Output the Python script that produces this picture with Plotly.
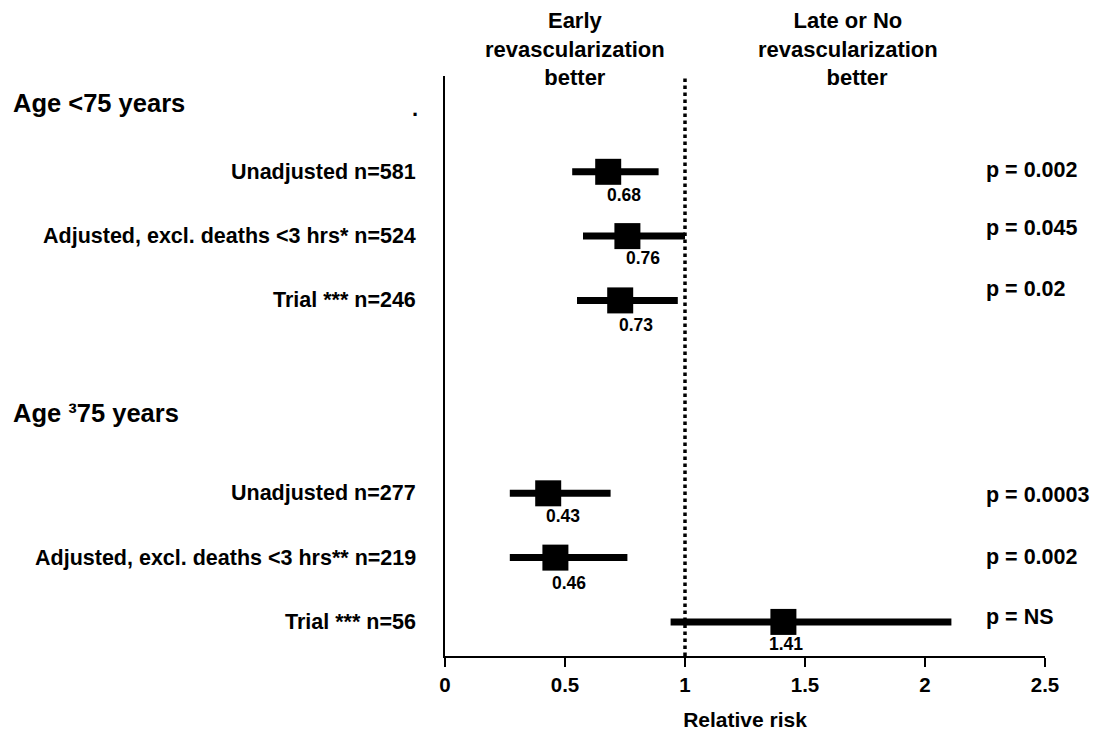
import plotly.graph_objects as go

# ---- data ----
row_labels = ["Unadjusted n=581", "Adjusted, excl. deaths <3 hrs* n=524", "Trial *** n=246",
              "Unadjusted n=277", "Adjusted, excl. deaths <3 hrs** n=219", "Trial *** n=56"]
row_pos = [0, 1, 2, 5, 6, 7]
rr = [0.68, 0.76, 0.73, 0.43, 0.46, 1.41]
ci_low = [0.53, 0.575, 0.55, 0.27, 0.27, 0.94]
ci_high = [0.89, 1.0, 0.97, 0.69, 0.76, 2.11]
rr_labels = ["0.68", "0.76", "0.73", "0.43", "0.46", "1.41"]
p_labels = ["p = 0.002", "p = 0.045", "p = 0.02", "p = 0.0003", "p = 0.002", "p = NS"]
group_labels = ["Age <75 years", "Age ³75 years"]
group_pos = [-1.07, 3.75]
x_ticks = [0, 0.5, 1, 1.5, 2, 2.5]
x_tick_text = ["0", "0.5", "1", "1.5", "2", "2.5"]

FONT = "Liberation Sans, Arial, sans-serif"

fig = go.Figure()

fig.add_trace(go.Scatter(
    x=rr, y=row_pos, mode="markers",
    marker=dict(symbol="square", size=26, color="black"),
    error_x=dict(type="data", symmetric=False,
                 array=[h - m for h, m in zip(ci_high, rr)],
                 arrayminus=[m - l for m, l in zip(rr, ci_low)],
                 thickness=7, width=0, color="black"),
    showlegend=False, hoverinfo="skip", cliponaxis=False,
))

# reference line at RR = 1
fig.add_shape(type="line", xref="x", yref="paper", x0=1, x1=1, y0=0, y1=0.997,
              line=dict(color="black", width=3.5, dash="dot"))

ann = []
label_xshift = [16, 16, 16, 15, 14, 3]
label_yshift = [-23, -22, -25, -23, -25, -22]
p_yshift = [2, 8, 11, -2, 1, 5]
for i in range(len(rr)):
    ann.append(dict(xref="paper", yref="y", x=-0.045, y=row_pos[i], text=row_labels[i],
                    xanchor="right", yanchor="middle", showarrow=False,
                    font=dict(size=21.5, family=FONT, color="black", weight="bold")))
    ann.append(dict(xref="x", yref="y", x=rr[i], y=row_pos[i], text=rr_labels[i],
                    xanchor="center", yanchor="middle", showarrow=False,
                    xshift=label_xshift[i], yshift=label_yshift[i],
                    font=dict(size=17.5, family=FONT, color="black", weight="bold")))
    ann.append(dict(xref="x", yref="y", x=2.245, y=row_pos[i], text=p_labels[i],
                    xanchor="left", yanchor="middle", showarrow=False, yshift=p_yshift[i],
                    font=dict(size=21.5, family=FONT, color="black", weight="bold")))
for g, gy in zip(group_labels, group_pos):
    ann.append(dict(xref="paper", yref="y", x=-0.724, y=gy, text=g,
                    xanchor="left", yanchor="middle", showarrow=False,
                    font=dict(size=25.5, family=FONT, color="black", weight="bold")))
ann.append(dict(xref="paper", yref="y", x=-0.05, y=-0.98, text=".",
                xanchor="center", yanchor="middle", showarrow=False,
                font=dict(size=22, family=FONT, color="black", weight="bold")))
ann.append(dict(xref="x", yref="paper", x=0.54, y=1.0466,
                text="Early<br>revascularization<br>better",
                xanchor="center", yanchor="middle", showarrow=False,
                font=dict(size=22, family=FONT, color="black", weight="bold")))
ann.append(dict(xref="x", yref="paper", x=1.68, y=1.0466,
                text="Late or No<br>revascularization<br>   better",
                xanchor="center", yanchor="middle", showarrow=False,
                font=dict(size=22, family=FONT, color="black", weight="bold")))

fig.update_layout(
    width=1090, height=724,
    margin=dict(l=437, r=53, t=68, b=76, autoexpand=False),
    plot_bgcolor="white", paper_bgcolor="white",
    font=dict(family=FONT, color="black", weight="bold"),
    annotations=ann,
    xaxis=dict(range=[0, 2.5], tickvals=x_ticks, ticktext=x_tick_text,
               showgrid=False, zeroline=False, showline=True, linecolor="black", linewidth=2,
               ticks="outside", ticklen=9, tickwidth=2, tickcolor="black", automargin=False,
               tickfont=dict(size=20.5, family=FONT, color="black", weight="bold"),
               title=dict(text="Relative risk", standoff=18,
                          font=dict(size=21, family=FONT, color="black", weight="bold"))),
    yaxis=dict(range=[7.53, -1.49], showgrid=False, zeroline=False, showticklabels=False,
               showline=True, linecolor="black", linewidth=2, ticks="", automargin=False),
)

fig.write_html("out.html")
